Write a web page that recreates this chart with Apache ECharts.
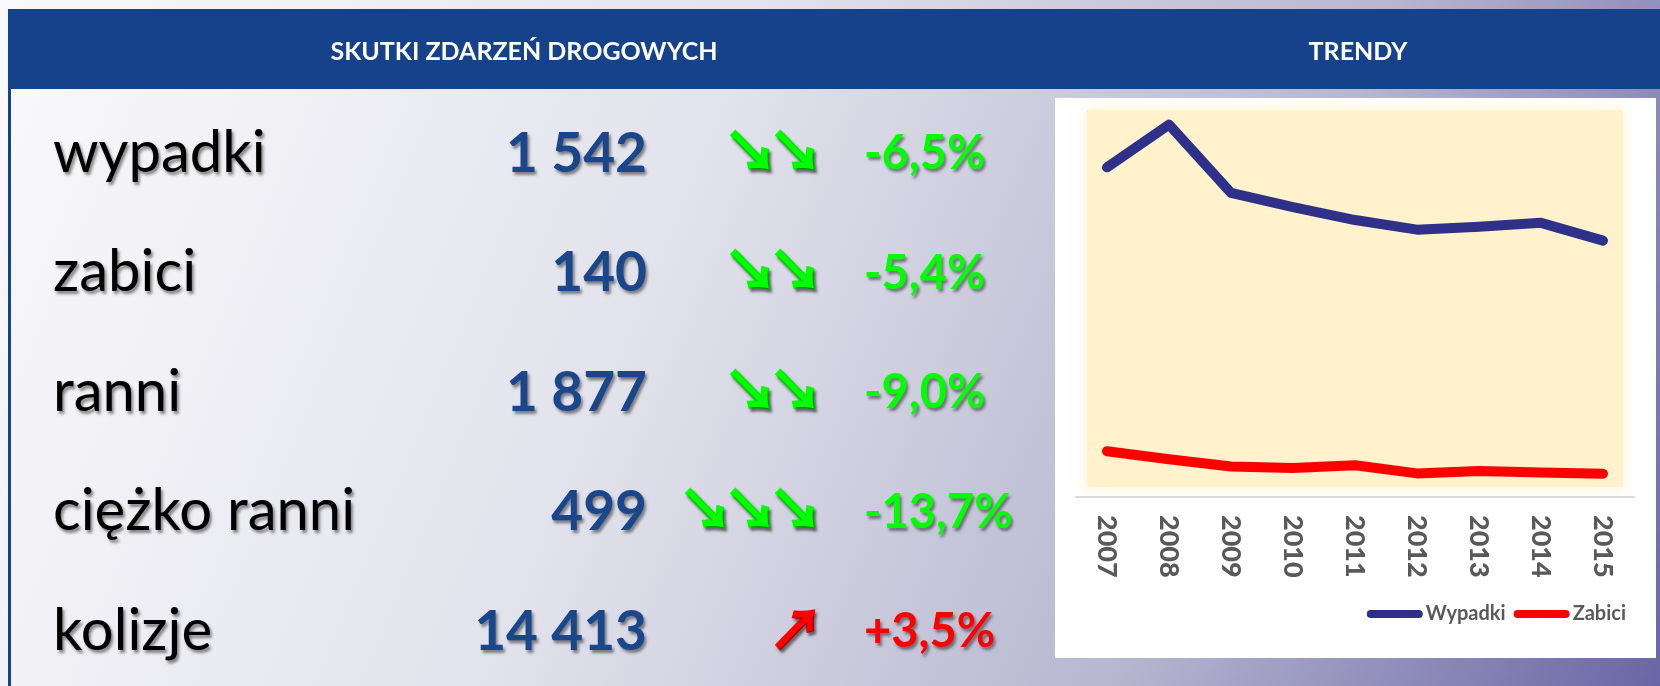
<!DOCTYPE html>
<html>
<head>
<meta charset="utf-8">
<script src="https://cdn.jsdelivr.net/npm/echarts@6/dist/echarts.min.js"></script>
<style>
  html, body { margin: 0; padding: 0; }
  #main { width: 1660px; height: 686px; }
</style>
</head>
<body>
<div id="main"></div>
<script>
// chart data
var years = ['2007', '2008', '2009', '2010', '2011', '2012', '2013', '2014', '2015'];
var wypadki = [1983, 2240, 1829, 1744, 1666, 1608, 1625, 1649, 1542];
var zabici = [275, 227, 184, 175, 191, 142, 157, 148, 140];

// table data
var rowLabels = ['wypadki', 'zabici', 'ranni', 'ciężko ranni', 'kolizje'];
var rowValues = ['1 542', '140', '1 877', '499', '14 413'];
var rowArrows = ['↘↘', '↘↘', '↘↘', '↘↘↘', '↗'];
var rowChanges = ['-6,5%', '-5,4%', '-9,0%', '-13,7%', '+3,5%'];

var FONT = 'Lato, "Open Sans", sans-serif';
var shadow = { textShadowColor: 'rgba(0,0,0,0.45)', textShadowBlur: 3, textShadowOffsetX: 2, textShadowOffsetY: 3 };

function text_el(x, y, txt, opts) {
    var style = { text: txt, fill: opts.fill, fontSize: opts.size, fontWeight: opts.weight || 'normal',
        fontFamily: opts.family || FONT, align: opts.align || 'left', verticalAlign: 'middle' };
    if (opts.shadow) { Object.assign(style, shadow); }
    if (opts.stroke) { style.stroke = opts.fill; style.lineWidth = opts.stroke; }
    return { type: 'text', x: x, y: y, z: 10, style: style };
}

var elements = [
    // page background
    { type: 'rect', z: -10, shape: { x: 0, y: 0, width: 1660, height: 686 },
      style: { fill: new echarts.graphic.LinearGradient(0, 0, 1, 1, [
          { offset: 0, color: '#fafafc' }, { offset: 0.4, color: '#e2e2ec' },
          { offset: 0.72, color: '#b6b6d0' }, { offset: 1, color: '#6a66a6' }]) } },
    // header bar and left border
    { type: 'rect', z: -5, shape: { x: 8, y: 9, width: 1652, height: 80 }, style: { fill: '#15428b' } },
    { type: 'rect', z: -5, shape: { x: 8, y: 89, width: 3, height: 597 }, style: { fill: '#15428b' } },
    text_el(524, 52, 'SKUTKI ZDARZEŃ DROGOWYCH', { fill: '#ffffff', size: 25, weight: 'bold', align: 'center' }),
    text_el(1358, 52, 'TRENDY', { fill: '#ffffff', size: 25, weight: 'bold', align: 'center' }),
    // chart panel and plot fill
    { type: 'rect', z: -4, shape: { x: 1055, y: 98, width: 601, height: 560 }, style: { fill: '#ffffff' } },
    { type: 'rect', z: -3, shape: { x: 1087, y: 110, width: 536, height: 377 },
      style: { fill: '#fff2cc', shadowBlur: 14, shadowColor: '#fff2cc' } }
];

var rowY = [172, 291.5, 411, 530.5, 650];
for (var i = 0; i < rowLabels.length; i++) {
    var base = rowY[i];
    var up = rowChanges[i].charAt(0) === '+';
    var col = up ? '#ff0000' : '#00ff00';
    elements.push(text_el(53, base - 19, rowLabels[i], { fill: '#000000', size: 58, shadow: true }));
    elements.push(text_el(647, base + 3 - 21, rowValues[i], { fill: '#1a468c', size: 55, weight: 'bold', align: 'right', shadow: true }));
    // arrows one glyph at a time, right to left, 45px apart
    var arrows = rowArrows[i].split('');
    for (var k = 0; k < arrows.length; k++) {
        var cx = 796 - 45 * (arrows.length - 1 - k);
        elements.push(text_el(cx, base - 21, arrows[k], { fill: col, size: 54, weight: 'bold', align: 'center',
            family: '"Noto Sans CJK SC", "DejaVu Sans", sans-serif', shadow: true, stroke: 2.5 }));
    }
    elements.push(text_el(864, base - 18, rowChanges[i], { fill: col, size: 47, weight: 'bold', shadow: true }));
}

var chart = echarts.init(document.getElementById('main'));
chart.setOption({
    animation: false,
    graphic: { elements: elements },
    grid: { left: 1076, right: 26, top: 98, bottom: 189 },
    legend: {
        data: ['Wypadki', 'Zabici'],
        right: 34, top: 604, padding: 0,
        itemWidth: 56, itemHeight: 8, itemGap: 8,
        icon: 'path://M4,0L52,0A4,4,0,0,1,52,8L4,8A4,4,0,0,1,4,0Z',
        textStyle: { color: '#595959', fontSize: 20, fontWeight: 'bold', fontFamily: FONT, padding: [0, 0, 0, -2] }
    },
    xAxis: {
        type: 'category', data: years, boundaryGap: true,
        axisLine: { lineStyle: { color: '#d9d9d9', width: 2 } },
        axisTick: { show: false },
        axisLabel: { rotate: -90, margin: 18, color: '#595959', fontSize: 27, fontWeight: 900, fontFamily: FONT }
    },
    yAxis: { type: 'value', min: 0, max: 2400, show: false, splitLine: { show: false } },
    series: [
        { name: 'Wypadki', type: 'line', data: wypadki, showSymbol: false, color: '#2e3089',
          lineStyle: { width: 10, color: '#2e3089', cap: 'round', join: 'round' } },
        { name: 'Zabici', type: 'line', data: zabici, showSymbol: false, color: '#ff0000',
          lineStyle: { width: 10, color: '#ff0000', cap: 'round', join: 'round' } }
    ]
});
</script>
</body>
</html>
